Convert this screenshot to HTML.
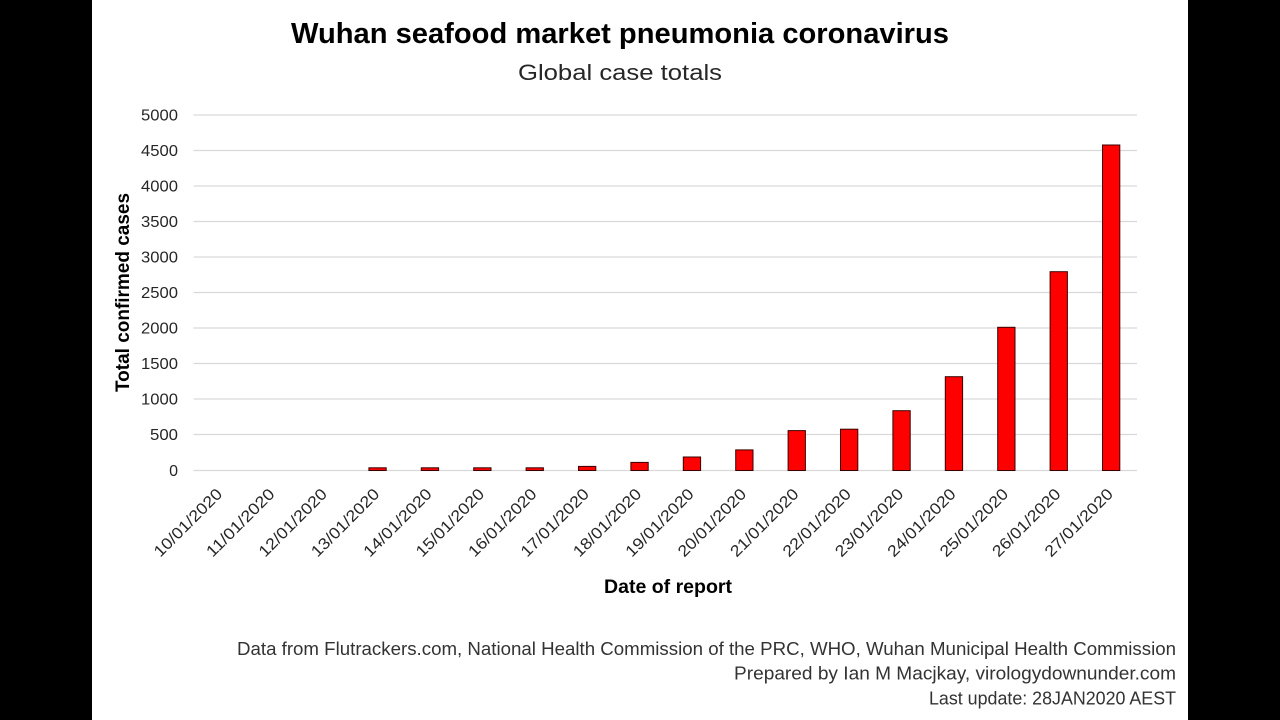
<!DOCTYPE html>
<html>
<head>
<meta charset="utf-8">
<style>
html,body{margin:0;padding:0;background:#000;}
svg{display:block;}
text{font-family:"Liberation Sans",sans-serif;}
</style>
</head>
<body>
<svg width="1280" height="720" viewBox="0 0 1280 720" xmlns="http://www.w3.org/2000/svg">
<rect x="0" y="0" width="1280" height="720" fill="#000"/>
<rect x="92" y="0" width="1096" height="720" fill="#fff"/>

<!-- Titles -->
<text x="620" y="43" text-anchor="middle" font-size="29" font-weight="bold" fill="#000" textLength="658" lengthAdjust="spacingAndGlyphs">Wuhan seafood market pneumonia coronavirus</text>
<text x="620" y="80" text-anchor="middle" font-size="22" fill="#262626" textLength="204" lengthAdjust="spacingAndGlyphs">Global case totals</text>

<!-- Gridlines -->
<g stroke="#d9d9d9" stroke-width="1.3">
<line x1="193.5" x2="1137" y1="115" y2="115"/>
<line x1="193.5" x2="1137" y1="150.5" y2="150.5"/>
<line x1="193.5" x2="1137" y1="186" y2="186"/>
<line x1="193.5" x2="1137" y1="221.5" y2="221.5"/>
<line x1="193.5" x2="1137" y1="257" y2="257"/>
<line x1="193.5" x2="1137" y1="292.5" y2="292.5"/>
<line x1="193.5" x2="1137" y1="328" y2="328"/>
<line x1="193.5" x2="1137" y1="363.5" y2="363.5"/>
<line x1="193.5" x2="1137" y1="399" y2="399"/>
<line x1="193.5" x2="1137" y1="434.5" y2="434.5"/>
<line x1="193.5" x2="1137" y1="470.5" y2="470.5"/>
</g>

<!-- Y tick labels -->
<g font-size="16" fill="#262626" text-anchor="end">
<text x="178" y="120.7" textLength="37" lengthAdjust="spacingAndGlyphs">5000</text>
<text x="178" y="156.2" textLength="37" lengthAdjust="spacingAndGlyphs">4500</text>
<text x="178" y="191.7" textLength="37" lengthAdjust="spacingAndGlyphs">4000</text>
<text x="178" y="227.2" textLength="37" lengthAdjust="spacingAndGlyphs">3500</text>
<text x="178" y="262.7" textLength="37" lengthAdjust="spacingAndGlyphs">3000</text>
<text x="178" y="298.2" textLength="37" lengthAdjust="spacingAndGlyphs">2500</text>
<text x="178" y="333.7" textLength="37" lengthAdjust="spacingAndGlyphs">2000</text>
<text x="178" y="369.2" textLength="37" lengthAdjust="spacingAndGlyphs">1500</text>
<text x="178" y="404.7" textLength="37" lengthAdjust="spacingAndGlyphs">1000</text>
<text x="178" y="440.2" textLength="28" lengthAdjust="spacingAndGlyphs">500</text>
<text x="178" y="476.2">0</text>
</g>

<!-- Y axis title -->
<text transform="translate(129,292.5) rotate(-90)" text-anchor="middle" font-size="19" font-weight="bold" fill="#000" textLength="199" lengthAdjust="spacingAndGlyphs">Total confirmed cases</text>

<!-- Bars -->
<g fill="#ff0000" stroke="#3a0000" stroke-width="1">
<rect x="368.9" y="467.8" width="17.3" height="2.7"/>
<rect x="421.3" y="467.8" width="17.3" height="2.7"/>
<rect x="473.7" y="467.8" width="17.3" height="2.7"/>
<rect x="526.1" y="467.8" width="17.3" height="2.7"/>
<rect x="578.5" y="466.4" width="17.3" height="4.1"/>
<rect x="630.9" y="462.4" width="17.3" height="8.1"/>
<rect x="683.3" y="457.0" width="17.3" height="13.5"/>
<rect x="735.7" y="449.9" width="17.3" height="20.6"/>
<rect x="788.1" y="430.6" width="17.3" height="39.9"/>
<rect x="840.5" y="429.2" width="17.3" height="41.3"/>
<rect x="892.9" y="410.7" width="17.3" height="59.8"/>
<rect x="945.3" y="376.7" width="17.3" height="93.8"/>
<rect x="997.7" y="327.3" width="17.3" height="143.2"/>
<rect x="1050.1" y="271.7" width="17.3" height="198.8"/>
<rect x="1102.5" y="145" width="17.3" height="325.5"/>
</g>

<!-- X tick labels -->
<g font-size="16" fill="#262626" text-anchor="end">
<text transform="translate(223.2,495) rotate(-45)" textLength="89" lengthAdjust="spacingAndGlyphs">10/01/2020</text>
<text transform="translate(275.6,495) rotate(-45)" textLength="89" lengthAdjust="spacingAndGlyphs">11/01/2020</text>
<text transform="translate(328.0,495) rotate(-45)" textLength="89" lengthAdjust="spacingAndGlyphs">12/01/2020</text>
<text transform="translate(380.4,495) rotate(-45)" textLength="89" lengthAdjust="spacingAndGlyphs">13/01/2020</text>
<text transform="translate(432.8,495) rotate(-45)" textLength="89" lengthAdjust="spacingAndGlyphs">14/01/2020</text>
<text transform="translate(485.2,495) rotate(-45)" textLength="89" lengthAdjust="spacingAndGlyphs">15/01/2020</text>
<text transform="translate(537.6,495) rotate(-45)" textLength="89" lengthAdjust="spacingAndGlyphs">16/01/2020</text>
<text transform="translate(590.0,495) rotate(-45)" textLength="89" lengthAdjust="spacingAndGlyphs">17/01/2020</text>
<text transform="translate(642.4,495) rotate(-45)" textLength="89" lengthAdjust="spacingAndGlyphs">18/01/2020</text>
<text transform="translate(694.8,495) rotate(-45)" textLength="89" lengthAdjust="spacingAndGlyphs">19/01/2020</text>
<text transform="translate(747.2,495) rotate(-45)" textLength="89" lengthAdjust="spacingAndGlyphs">20/01/2020</text>
<text transform="translate(799.6,495) rotate(-45)" textLength="89" lengthAdjust="spacingAndGlyphs">21/01/2020</text>
<text transform="translate(852.0,495) rotate(-45)" textLength="89" lengthAdjust="spacingAndGlyphs">22/01/2020</text>
<text transform="translate(904.4,495) rotate(-45)" textLength="89" lengthAdjust="spacingAndGlyphs">23/01/2020</text>
<text transform="translate(956.8,495) rotate(-45)" textLength="89" lengthAdjust="spacingAndGlyphs">24/01/2020</text>
<text transform="translate(1009.2,495) rotate(-45)" textLength="89" lengthAdjust="spacingAndGlyphs">25/01/2020</text>
<text transform="translate(1061.6,495) rotate(-45)" textLength="89" lengthAdjust="spacingAndGlyphs">26/01/2020</text>
<text transform="translate(1114.0,495) rotate(-45)" textLength="89" lengthAdjust="spacingAndGlyphs">27/01/2020</text>
</g>

<!-- X axis title -->
<text x="668" y="593" text-anchor="middle" font-size="19" font-weight="bold" fill="#000" textLength="128" lengthAdjust="spacingAndGlyphs">Date of report</text>

<!-- Footer -->
<g font-size="18" fill="#333" text-anchor="end">
<text x="1176" y="655" textLength="939" lengthAdjust="spacingAndGlyphs">Data from Flutrackers.com, National Health Commission of the PRC, WHO, Wuhan Municipal Health Commission</text>
<text x="1176" y="679.7" textLength="442" lengthAdjust="spacingAndGlyphs">Prepared by Ian M Macjkay, virologydownunder.com</text>
<text x="1176" y="704.3" textLength="247" lengthAdjust="spacingAndGlyphs">Last update: 28JAN2020 AEST</text>
</g>
</svg>
</body>
</html>
